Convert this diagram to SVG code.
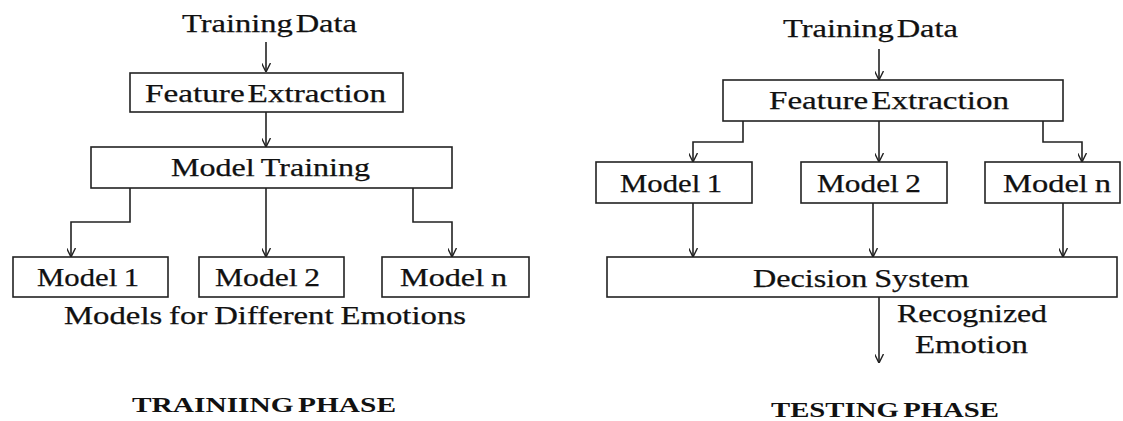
<svg xmlns="http://www.w3.org/2000/svg" width="1123" height="421" viewBox="0 0 1123 421">
<style>
.box{fill:#fff;stroke:#222;stroke-width:1.6}
.ln{fill:none;stroke:#222;stroke-width:1.6}
.t{font-family:"Liberation Serif","Times New Roman",serif;font-size:25px;fill:#111;stroke:#111;stroke-width:0.25;word-spacing:-1px}
.tight{word-spacing:-4px}
.h{font-family:"Liberation Serif","Times New Roman",serif;font-size:21px;font-weight:bold;fill:#111;word-spacing:-2px}
</style>
<defs>
<marker id="ah" viewBox="0 0 10 10" refX="10" refY="5" markerWidth="9" markerHeight="9" markerUnits="userSpaceOnUse" orient="auto">
<path d="M0,0 L10,5 L0,10" fill="none" stroke="#222" stroke-width="1.6"/>
</marker>
</defs>
<rect width="1123" height="421" fill="#fff"/>
<g id="connectors">
<path class="ln" d="M266,42 V72" marker-end="url(#ah)"/>
<path class="ln" d="M266,112 V147" marker-end="url(#ah)"/>
<path class="ln" d="M130,188 V222 H71 V257" marker-end="url(#ah)"/>
<path class="ln" d="M266,188 V257" marker-end="url(#ah)"/>
<path class="ln" d="M413,188 V222 H452 V257" marker-end="url(#ah)"/>
<path class="ln" d="M879,49 V80" marker-end="url(#ah)"/>
<path class="ln" d="M743,121 V142 H693 V162" marker-end="url(#ah)"/>
<path class="ln" d="M879,121 V162" marker-end="url(#ah)"/>
<path class="ln" d="M1043,121 V142 H1082 V162" marker-end="url(#ah)"/>
<path class="ln" d="M693,203 V257" marker-end="url(#ah)"/>
<path class="ln" d="M873,203 V257" marker-end="url(#ah)"/>
<path class="ln" d="M1063,203 V257" marker-end="url(#ah)"/>
<path class="ln" d="M879,297 V363" marker-end="url(#ah)"/>
</g>
<g id="train-data-l"><text class="t tight" x="182" y="32" textLength="175" lengthAdjust="spacingAndGlyphs">Training Data</text></g>
<g id="fe-l"><rect class="box" x="130" y="73" width="273" height="39"/><text class="t tight" x="145" y="102" textLength="241" lengthAdjust="spacingAndGlyphs">Feature Extraction</text></g>
<g id="mt-l"><rect class="box" x="91" y="147" width="361" height="41"/><text class="t" x="171" y="176" textLength="199" lengthAdjust="spacingAndGlyphs">Model Training</text></g>
<g id="m1-l"><rect class="box" x="13" y="257" width="155" height="40"/><text class="t" x="37" y="286" textLength="102" lengthAdjust="spacingAndGlyphs">Model 1</text></g>
<g id="m2-l"><rect class="box" x="199" y="257" width="145" height="40"/><text class="t" x="215" y="286" textLength="105" lengthAdjust="spacingAndGlyphs">Model 2</text></g>
<g id="mn-l"><rect class="box" x="382" y="257" width="147" height="40"/><text class="t" x="400" y="286" textLength="107" lengthAdjust="spacingAndGlyphs">Model n</text></g>
<g id="models-caption"><text class="t" x="64" y="324" textLength="402" lengthAdjust="spacingAndGlyphs">Models for Different Emotions</text></g>
<g id="training-title"><text class="h" x="132" y="412" textLength="264" lengthAdjust="spacingAndGlyphs">TRAINIING PHASE</text></g>
<g id="train-data-r"><text class="t tight" x="783" y="37" textLength="175" lengthAdjust="spacingAndGlyphs">Training Data</text></g>
<g id="fe-r"><rect class="box" x="723" y="80" width="340" height="41"/><text class="t tight" x="769" y="109" textLength="240" lengthAdjust="spacingAndGlyphs">Feature Extraction</text></g>
<g id="m1-r"><rect class="box" x="596" y="162" width="156" height="41"/><text class="t" x="620" y="192" textLength="102" lengthAdjust="spacingAndGlyphs">Model 1</text></g>
<g id="m2-r"><rect class="box" x="801" y="162" width="146" height="41"/><text class="t" x="817" y="192" textLength="104" lengthAdjust="spacingAndGlyphs">Model 2</text></g>
<g id="mn-r"><rect class="box" x="985" y="162" width="135" height="41"/><text class="t" x="1003" y="192" textLength="108" lengthAdjust="spacingAndGlyphs">Model n</text></g>
<g id="decision"><rect class="box" x="607" y="257" width="510" height="40"/><text class="t" x="753" y="287" textLength="216" lengthAdjust="spacingAndGlyphs">Decision System</text></g>
<g id="output-label"><text class="t" x="897" y="322" textLength="150" lengthAdjust="spacingAndGlyphs">Recognized</text><text class="t" x="915" y="353" textLength="113" lengthAdjust="spacingAndGlyphs">Emotion</text></g>
<g id="testing-title"><text class="h" x="771" y="417" textLength="228" lengthAdjust="spacingAndGlyphs">TESTING PHASE</text></g>
</svg>
